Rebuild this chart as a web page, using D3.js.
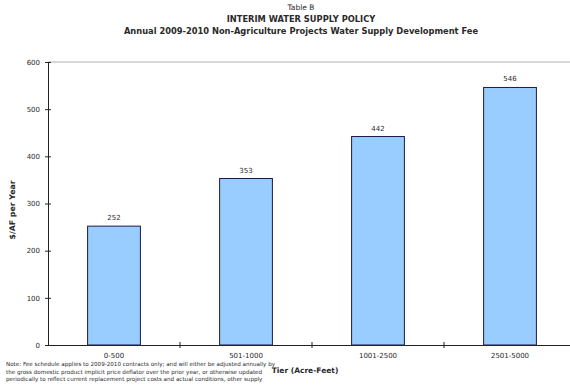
<!DOCTYPE html>
<html><head><meta charset="utf-8">
<script src="https://cdn.jsdelivr.net/npm/d3@7"></script>
<style>body{margin:0;background:#fff}svg{display:block}text{font-family:"DejaVu Sans",Verdana,sans-serif}</style>
</head><body>
<script>
const categories = ["0-500","501-1000","1001-2500","2501-5000"];
const values = [252, 353, 442, 546];
const yTicks = [0,100,200,300,400,500,600];
const titleLines = ["Table B","INTERIM WATER SUPPLY POLICY","Annual 2009-2010 Non-Agriculture Projects Water Supply Development Fee"];
const noteLines = [
 "Note:  Fee schedule applies to 2009-2010 contracts only; and will either be adjusted annually by",
 "the gross domestic product implicit price deflator over the prior year, or otherwise updated",
 "periodically to reflect current replacement project costs and actual conditions, other supply"
];

const W=570,H=389;
const svg=d3.select("body").append("svg").attr("width",W).attr("height",H);
const x=d3.scaleBand().domain(categories).range([48,576]).paddingInner(0.6).paddingOuter(0.3);
const y=d3.scaleLinear().domain([0,600]).range([345,62]);
const ink="#2a2a2a";

// title
svg.selectAll("text.title").data(titleLines).enter().append("text")
 .attr("x",301).attr("y",(d,i)=>10+i*12).attr("text-anchor","middle")
 .attr("font-size",(d,i)=>i==0?7.5:8.3).attr("font-weight",(d,i)=>i==0?"normal":"bold")
 .attr("fill",ink).text(d=>d);

// top border
svg.append("line").attr("x1",48).attr("x2",576).attr("y1",y(600)).attr("y2",y(600)).attr("stroke","#b0b0b0").attr("stroke-width",1);

// bars
svg.selectAll("rect.bar").data(values).enter().append("rect")
 .attr("x",(d,i)=>x(categories[i])).attr("width",x.bandwidth())
 .attr("y",d=>y(d)).attr("height",d=>y(0)-y(d))
 .attr("fill","#99ccff").attr("stroke","#1a1a4a").attr("stroke-width",1);

svg.selectAll("text.val").data(values).enter().append("text")
 .attr("x",(d,i)=>x(categories[i])+x.bandwidth()/2).attr("y",d=>y(d)-6)
 .attr("text-anchor","middle").attr("font-size",7).attr("fill",ink).text(d=>d);

// y axis
const ya=svg.append("g").attr("transform","translate(48,0)")
 .call(d3.axisLeft(y).tickValues(yTicks).tickSize(3).tickPadding(5));
ya.select(".domain").attr("stroke","#222");
ya.selectAll(".tick line").attr("x2",3).attr("x1",-3).attr("stroke","#222");
ya.selectAll("text").attr("font-size",7).attr("fill",ink).attr("font-family","DejaVu Sans, Verdana, sans-serif");

// x axis
const xa=svg.append("g").attr("transform","translate(0,345)")
 .call(d3.axisBottom(x).tickSize(0).tickPadding(8));
xa.select(".domain").attr("stroke","#222");
xa.selectAll("text").attr("font-size",7).attr("fill",ink).attr("font-family","DejaVu Sans, Verdana, sans-serif");
const step=x.step();
svg.selectAll("line.xt").data(categories.slice(1)).enter().append("line")
 .attr("x1",d=>x(d)-(step-x.bandwidth())/2).attr("x2",d=>x(d)-(step-x.bandwidth())/2)
 .attr("y1",342).attr("y2",348).attr("stroke","#222");

// axis titles
svg.append("text").attr("transform","translate(15,210) rotate(-90)").attr("text-anchor","middle")
 .attr("font-size",7.8).attr("font-weight","bold").attr("fill",ink).text("$/AF per Year");
svg.append("text").attr("x",305).attr("y",373).attr("text-anchor","middle")
 .attr("font-size",7.5).attr("font-weight","bold").attr("fill",ink).text("Tier (Acre-Feet)");

// note
svg.selectAll("text.note").data(noteLines).enter().append("text")
 .attr("x",6).attr("y",(d,i)=>366+i*7.5).attr("font-size",5.6).attr("fill",ink).text(d=>d);
</script>
</body></html>
